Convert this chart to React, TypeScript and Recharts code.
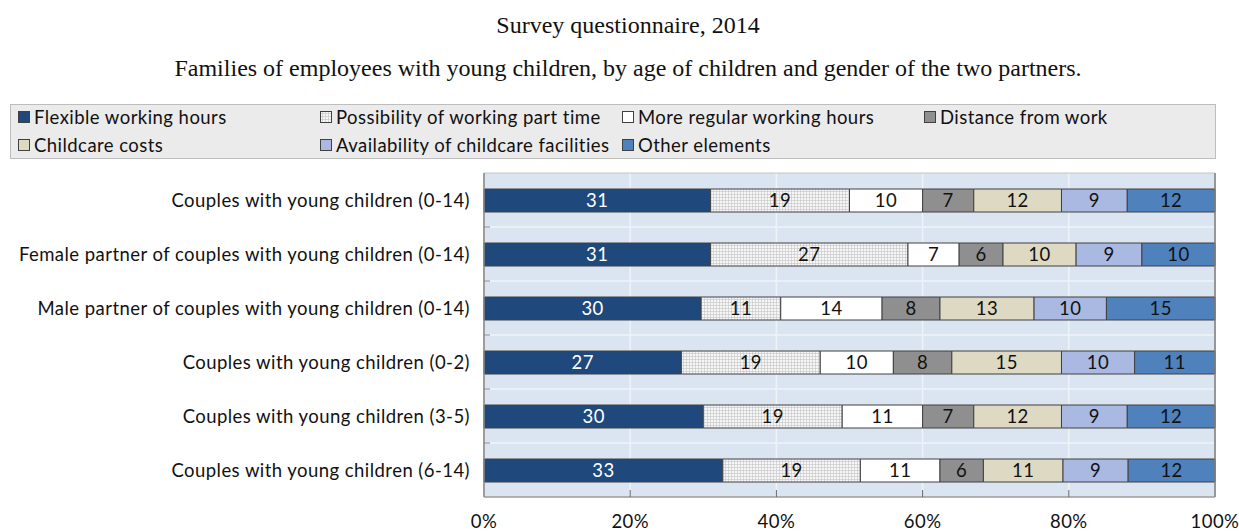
import React from "react";
import {
  BarChart,
  Bar,
  XAxis,
  YAxis,
  CartesianGrid,
  Legend,
  LabelList,
  ReferenceArea,
  ReferenceLine,
} from "recharts";

const categories = [
  "Couples with young children (0-14)",
  "Female partner of couples with young children (0-14)",
  "Male partner of couples with young children (0-14)",
  "Couples with young children (0-2)",
  "Couples with young children (3-5)",
  "Couples with young children (6-14)",
];

const seriesNames = [
  "Flexible working hours",
  "Possibility of working part time",
  "More regular working hours",
  "Distance from work",
  "Childcare costs",
  "Availability of childcare facilities",
  "Other elements",
];

const flexible = [31, 31, 30, 27, 30, 33];
const partTime = [19, 27, 11, 19, 19, 19];
const moreRegular = [10, 7, 14, 10, 11, 11];
const distance = [7, 6, 8, 8, 7, 6];
const childcareCosts = [12, 10, 13, 15, 12, 11];
const availability = [9, 9, 10, 10, 9, 9];
const other = [12, 10, 15, 11, 12, 12];

const xTicks = [0, 0.2, 0.4, 0.6, 0.8, 1];

const title = "Survey questionnaire, 2014";
const subtitle =
  "Families of employees with young children, by age of children and gender of the two partners.";

const seriesValues = [flexible, partTime, moreRegular, distance, childcareCosts, availability, other];
const keys = ["s0", "s1", "s2", "s3", "s4", "s5", "s6"];
const fills = ["#1f487c", "url(#gridPattern)", "#ffffff", "#8f8f8f", "#ddd9c3", "#a9b9e2", "#4f81bd"];
const labelColors = ["#ffffff", "#111111", "#111111", "#111111", "#111111", "#111111", "#111111"];

const data = categories.map((name, i) => {
  const row: Record<string, any> = { name };
  keys.forEach((k, j) => {
    row[k] = seriesValues[j][i];
  });
  return row;
});

const FONT = "Lato, 'Open Sans', sans-serif";
const FS = 18.5;
const LS = 0.45;
const PLOT_TOP = 173;
const PLOT_BOTTOM = 497;
const BAND = (PLOT_BOTTOM - PLOT_TOP) / categories.length;

const YTick = (props: any) => {
  const { x, y, payload, index } = props;
  return (
    <g>
      <text
        x={x - 14}
        y={y}
        textAnchor="end"
        dominantBaseline="central"
        fontFamily={FONT}
        fontSize={FS}
        letterSpacing={LS}
        fill="#111"
      >
        {payload.value}
      </text>
      {index < categories.length - 1 && (
        <line x1={x} x2={x + 6} y1={y + BAND / 2} y2={y + BAND / 2} stroke="#888" strokeWidth={1} />
      )}
    </g>
  );
};

const XTick = (props: any) => {
  const { x, y, payload, index } = props;
  return (
    <g>
      {index > 0 && index < xTicks.length - 1 && (
        <line x1={x} x2={x} y1={y - 7} y2={y} stroke="#666" strokeWidth={1} />
      )}
      <text
        x={x}
        y={y + 24}
        textAnchor="middle"
        dominantBaseline="central"
        fontFamily={FONT}
        fontSize={FS}
        letterSpacing={LS}
        fill="#111"
      >
        {Math.round(payload.value * 100) + "%"}
      </text>
    </g>
  );
};

const LegendContent = () => {
  return (
    <div
      style={{
        width: 1206,
        height: 55,
        background: "#ebebeb",
        border: "1px solid #bdbdbd",
        boxSizing: "border-box",
        position: "relative",
        fontFamily: FONT,
        fontSize: FS,
        letterSpacing: LS,
        color: "#111",
      }}
    >
      {seriesNames.map((n, i) => {
        const col = i % 4;
        const row = Math.floor(i / 4);
        return (
          <div
            key={n}
            style={{
              position: "absolute",
              left: 7 + col * 302,
              top: 1 + row * 28,
              height: 22,
              display: "flex",
              alignItems: "center",
              whiteSpace: "nowrap",
            }}
          >
            <svg width={13} height={13} style={{ marginRight: 3 }}>
              <defs>
                <pattern id={"lp" + i} width="3" height="3" patternUnits="userSpaceOnUse">
                  <rect width="3" height="3" fill="#f6f6f6" />
                  <path d="M2.5 0 V3 M0 2.5 H3" stroke="#c4c4c4" strokeWidth="0.6" />
                </pattern>
              </defs>
              <rect
                x={0.5}
                y={0.5}
                width={11}
                height={11}
                fill={i === 1 ? "url(#lp1)" : fills[i]}
                stroke="#404040"
                strokeWidth={1}
              />
            </svg>
            <span>{n}</span>
          </div>
        );
      })}
    </div>
  );
};

export default function App() {
  const serif = "'Liberation Serif', 'Times New Roman', serif";
  return (
    <div style={{ position: "absolute", left: 0, top: 0, width: 1239, height: 532, background: "#fff" }}>
      <div
        style={{
          position: "absolute",
          top: 12,
          left: 0,
          width: 1256,
          textAlign: "center",
          fontFamily: serif,
          fontSize: 24,
          color: "#111",
        }}
      >
        {title}
      </div>
      <div
        style={{
          position: "absolute",
          top: 55,
          left: 0,
          width: 1256,
          textAlign: "center",
          fontFamily: serif,
          fontSize: 24,
          color: "#111",
        }}
      >
        {subtitle}
      </div>
      <BarChart
        width={1239}
        height={532}
        data={data}
        layout="vertical"
        stackOffset="expand"
        margin={{ top: PLOT_TOP, right: 24, bottom: 0, left: 10 }}
        barCategoryGap={0}
        style={{ position: "absolute", left: 0, top: 0 }}
      >
        <defs>
          <pattern id="gridPattern" width="3" height="3" patternUnits="userSpaceOnUse">
            <rect width="3" height="3" fill="#f6f6f6" />
            <path d="M2.5 0 V3 M0 2.5 H3" stroke="#c4c4c4" strokeWidth="0.6" />
          </pattern>
        </defs>
        <CartesianGrid
          fill="#dbe5f1"
          stroke="#eef3f9"
          strokeWidth={1.5}
          horizontalCoordinatesGenerator={(p: any) => {
            const top = p.offset.top;
            const h = p.offset.height;
            return [1, 2, 3, 4, 5].map((i) => top + (i * h) / 6);
          }}
        />
        <ReferenceArea x1={0} x2={1} fill="none" stroke="#c4c4c4" strokeWidth={1} ifOverflow="visible" />
        <ReferenceLine x={1} stroke="#7f7f7f" strokeWidth={1.5} ifOverflow="visible" />
        <XAxis
          type="number"
          domain={[0, 1]}
          ticks={xTicks}
          height={35}
          tickSize={0}
          tickMargin={0}
          tickLine={false}
          axisLine={{ stroke: "#888" }}
          tick={<XTick />}
          interval={0}
        />
        <YAxis
          type="category"
          dataKey="name"
          width={474}
          tickSize={0}
          tickMargin={0}
          tickLine={false}
          axisLine={{ stroke: "#888", strokeWidth: 1.5 }}
          tick={<YTick />}
          interval={0}
        />
        <Legend
          layout="horizontal"
          verticalAlign="middle"
          align="center"
          content={<LegendContent />}
          wrapperStyle={{ top: 104, left: 10, width: 1208 }}
        />
        {keys.map((k, j) => (
          <Bar
            key={k}
            dataKey={k}
            name={seriesNames[j]}
            stackId="a"
            fill={fills[j]}
            stroke="#404040"
            strokeWidth={1}
            barSize={23}
            isAnimationActive={false}
          >
            <LabelList
              dataKey={k}
              position="center"
              fill={labelColors[j]}
              fontFamily={FONT}
              fontSize={FS}
              letterSpacing={LS}
            />
          </Bar>
        ))}
      </BarChart>
    </div>
  );
}
